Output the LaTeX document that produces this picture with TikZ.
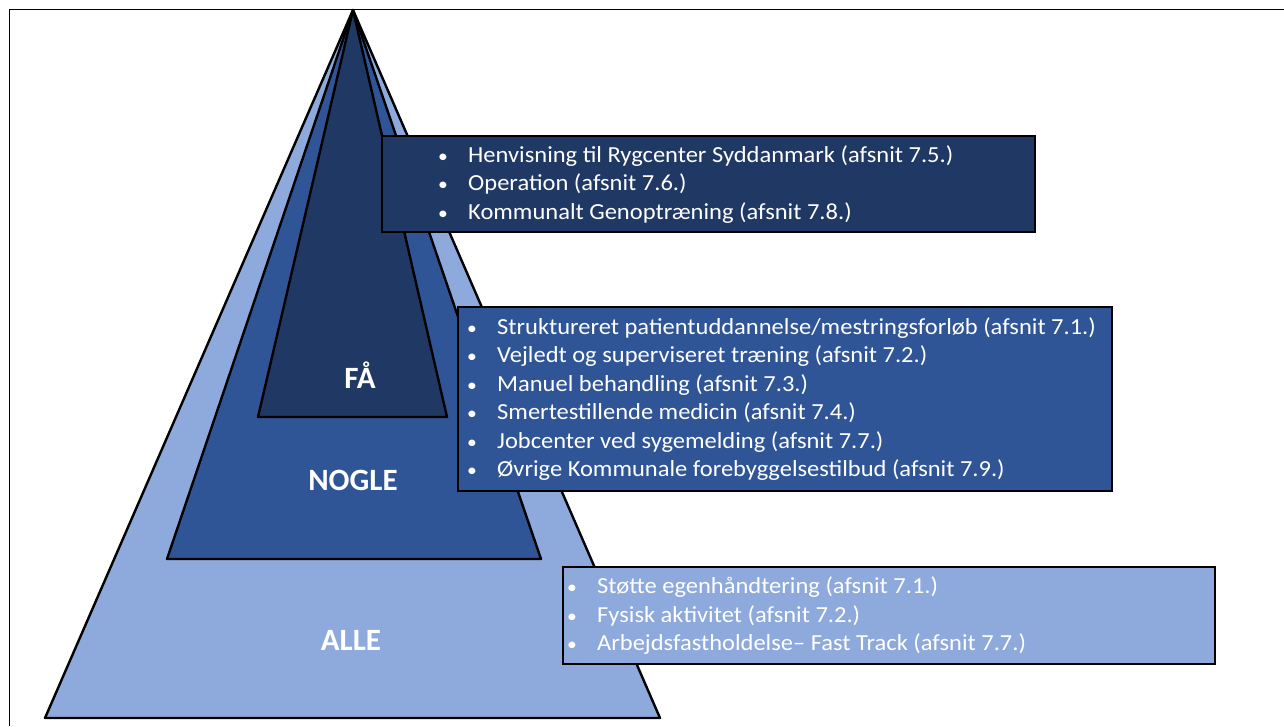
\documentclass[tikz,border=0pt]{standalone}
\usepackage{fontspec}
\setmainfont{Carlito}
\newfontfamily\boxfont[FakeStretch=1.065]{Carlito}
\definecolor{lightb}{HTML}{8EA9DB}
\definecolor{midb}{HTML}{2F5597}
\definecolor{darkb}{HTML}{203864}
\newcommand{\bul}{\makebox[31pt][l]{\hspace{1pt}\scalebox{0.8}{\textbullet}}}
\begin{document}
\begin{tikzpicture}[x=1pt,y=-1pt,
  tri/.style={draw=black, line width=2.4pt, line join=round},
  box/.style={draw=black, line width=2.4pt, rectangle, inner sep=0pt, anchor=north west},
  item/.style={text=white, font=\boxfont\fontsize{23}{28.5}\selectfont, align=left, inner sep=0pt, anchor=west},
  lvl/.style={text=white, font=\fontsize{31}{36}\selectfont\bfseries, inner sep=0pt}]
\useasboundingbox (0,0) rectangle (1284,726);
\draw[line width=1.5pt] (9.5,726) -- (9.5,9.5) -- (1284,9.5);
% pyramid
\coordinate (apex) at (353,10);
\coordinate (l1) at (45,718);  \coordinate (r1) at (660,718);
\coordinate (l2) at (167,559); \coordinate (r2) at (541,559);
\coordinate (l3) at (258,417); \coordinate (r3) at (447,417);
\filldraw[tri, fill=lightb] (apex) -- (l1) -- (r1) -- cycle;
\filldraw[tri, fill=midb] (apex) -- (l2) -- (r2) -- cycle;
\filldraw[tri, fill=darkb] (apex) -- (l3) -- (r3) -- cycle;
\node[lvl] (fa) at (360,375) {FÅ};
\node[lvl] (nogle) at (353,480) {NOGLE};
\node[lvl] (alle) at (351,640) {ALLE};
% boxes
\node[box, fill=darkb, minimum width=653pt, minimum height=96pt] (b1) at (381,135) {};
\node[item, xshift=56pt] (t1) at (b1.west) {%
\bul Henvisning til Rygcenter Syddanmark (afsnit 7.5.)\\
\bul Operation (afsnit 7.6.)\\
\bul Kommunalt Genoptræning (afsnit 7.8.)};
\node[box, fill=midb, minimum width=654pt, minimum height=184pt] (b2) at (457,306) {};
\node[item, xshift=9pt] (t2) at (b2.west) {%
\bul Struktureret patientuddannelse/mestringsforløb (afsnit 7.1.)\\
\bul Vejledt og superviseret træning (afsnit 7.2.)\\
\bul Manuel behandling (afsnit 7.3.)\\
\bul Smertestillende medicin (afsnit 7.4.)\\
\bul Jobcenter ved sygemelding (afsnit 7.7.)\\
\bul Øvrige Kommunale forebyggelsestilbud (afsnit 7.9.)};
\node[box, fill=lightb, minimum width=652pt, minimum height=97pt] (b3) at (562,566) {};
\node[item, xshift=4pt] (t3) at (b3.west) {%
\bul Støtte egenhåndtering (afsnit 7.1.)\\
\bul Fysisk aktivitet (afsnit 7.2.)\\
\bul Arbejdsfastholdelse– Fast Track (afsnit 7.7.)};
\end{tikzpicture}
\end{document}
